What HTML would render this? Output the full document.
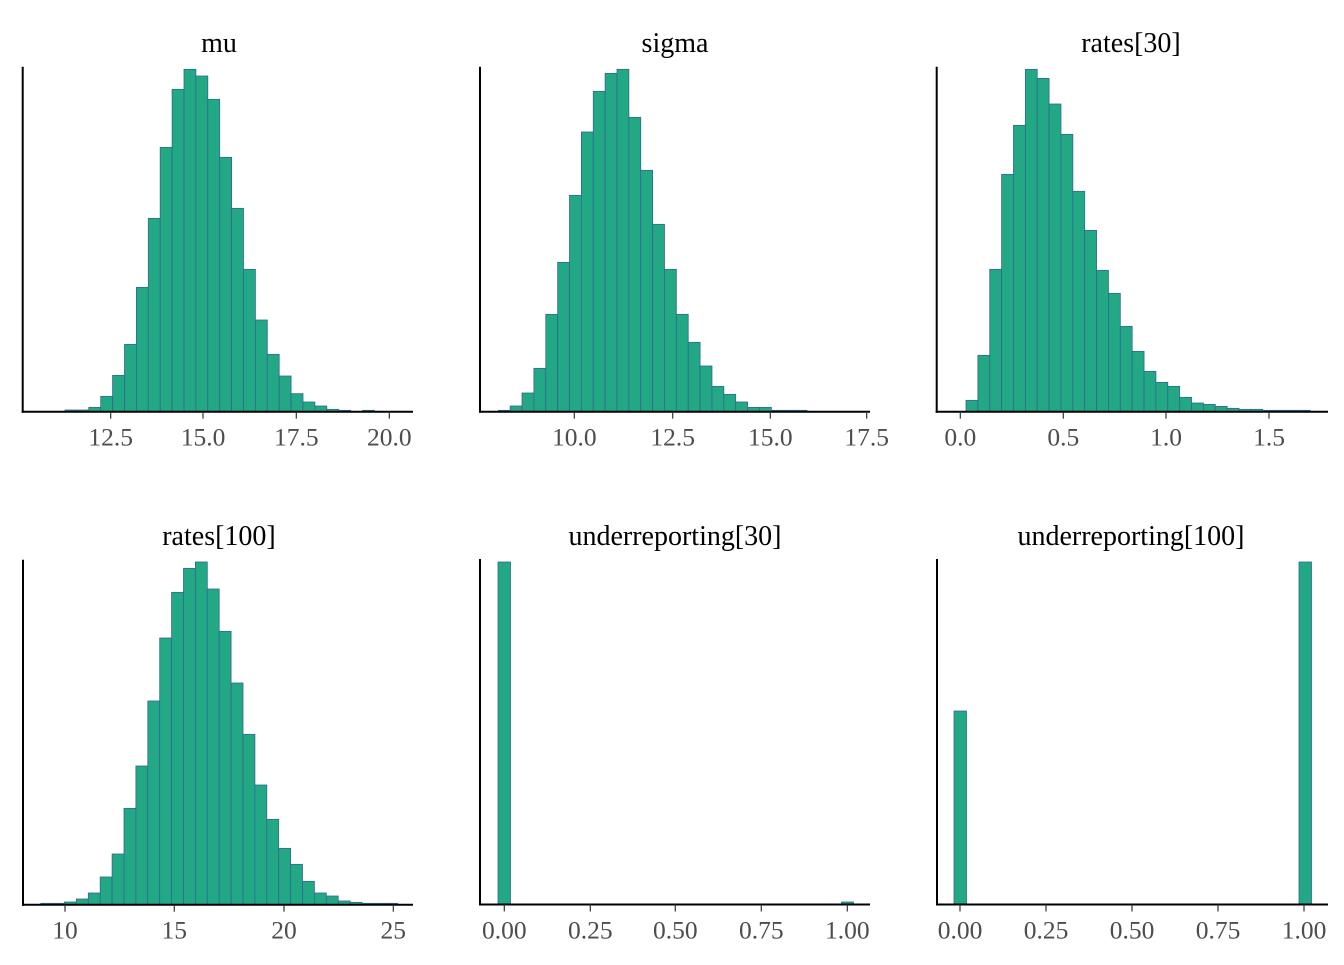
<!DOCTYPE html>
<html><head><meta charset="utf-8"><style>
html,body{margin:0;padding:0;background:#fff;}
svg text{font-family:"Liberation Serif",serif;}
</style></head><body>
<svg id="s" width="1344" height="960" xmlns="http://www.w3.org/2000/svg">
<text x="219" y="52" font-size="28" text-anchor="middle" fill="#000">mu</text>
<text x="675" y="52" font-size="28" text-anchor="middle" fill="#000">sigma</text>
<text x="1131" y="52" font-size="28" text-anchor="middle" fill="#000">rates[30]</text>
<text x="219" y="545" font-size="28" text-anchor="middle" fill="#000">rates[100]</text>
<text x="675" y="545" font-size="28" text-anchor="middle" fill="#000">underreporting[30]</text>
<text x="1131" y="545" font-size="28" text-anchor="middle" fill="#000">underreporting[100]</text>
</svg>
<script>
var s=document.getElementById('s');var NS='http://www.w3.org/2000/svg';
function el(t,a,txt){var e=document.createElementNS(NS,t);for(var k in a)e.setAttribute(k,a[k]);if(txt!==undefined)e.textContent=txt;s.appendChild(e);return e;}
var P=[
{x0:65,w:11.9,base:411.7,offy:60,tops:[1050,1050,1042,1009,946,853,682,475,262,88,28,48,118,292,445,628,780,883,948,1001,1026,1038,1048,1051,1055,1051],
 ax:[22.7,413],ticks:[[110.7,'12.5'],[203,'15.0'],[296.3,'17.5'],[389.3,'20.0']]},
{x0:498.3,w:11.87,base:411.7,offy:60,tops:[1051,1038,999,925,763,607,406,216,94,40,28,172,331,493,628,763,847,918,979,1003,1026,1042,1042,1051,1051,1051],
 ax:[480,870],ticks:[[574.3,'10.0'],[672.7,'12.5'],[770.3,'15.0'],[866.7,'17.5']]},
{x0:966,w:11.87,base:411.7,offy:60,tops:[1021,886,628,343,196,28,55,132,223,394,511,631,700,799,874,934,967,979,1012,1029,1033,1039,1045,1048,1048,1051,1051,1051,1051],
 ax:[936.7,1328],ticks:[[960.3,'0.0'],[1063.3,'0.5'],[1166,'1.0'],[1269,'1.5']]},
{x0:40.7,w:11.9,base:904.7,offy:555,tops:[1045,1045,1041,1032,1014,966,897,760,633,438,249,112,40,21,102,229,384,538,690,793,880,928,979,1014,1023,1038,1042,1045,1045,1045],
 ax:[23,413],ticks:[[65,'10'],[174.3,'15'],[284,'20'],[393.3,'25']]}
];
function axes(l,r,base,top,ticks){
 el('line',{x1:l,y1:top,x2:l,y2:base+1,stroke:'#000','stroke-width':2});
 el('line',{x1:l-1,y1:base,x2:r,y2:base,stroke:'#000','stroke-width':2});
 ticks.forEach(function(t){el('line',{x1:t[0],y1:base,x2:t[0],y2:base+7,stroke:'#333','stroke-width':1.2});
 el('text',{x:t[0],y:base+34,'font-size':25.5,'text-anchor':'middle',fill:'#4d4d4d'},t[1]);});
}
function bar(x,w,top,base){if(base-top<0.5)return;el('rect',{x:x,y:top,width:w,height:base-top,fill:'#22a884',stroke:'#33698f','stroke-width':0.8});}
P.forEach(function(p){
 p.tops.forEach(function(z,i){bar(p.x0+i*p.w,p.w,z/3+p.offy,p.base);});
 axes(p.ax[0],p.ax[1],p.base,p.base-345,p.ticks);
});
var t5=[[504.3,'0.00'],[590.3,'0.25'],[675.3,'0.50'],[761.3,'0.75'],[847.3,'1.00']];
bar(498,12.5,562,904.5);bar(841.5,12,902,904.5);
axes(480,870,904.5,559,t5);
var t6=[[960,'0.00'],[1046,'0.25'],[1132,'0.50'],[1218,'0.75'],[1304,'1.00']];
bar(954,12.5,711,904.5);bar(1299,12.5,562,904.5);
axes(937,1328,904.5,559,t6);
</script>
</body></html>
